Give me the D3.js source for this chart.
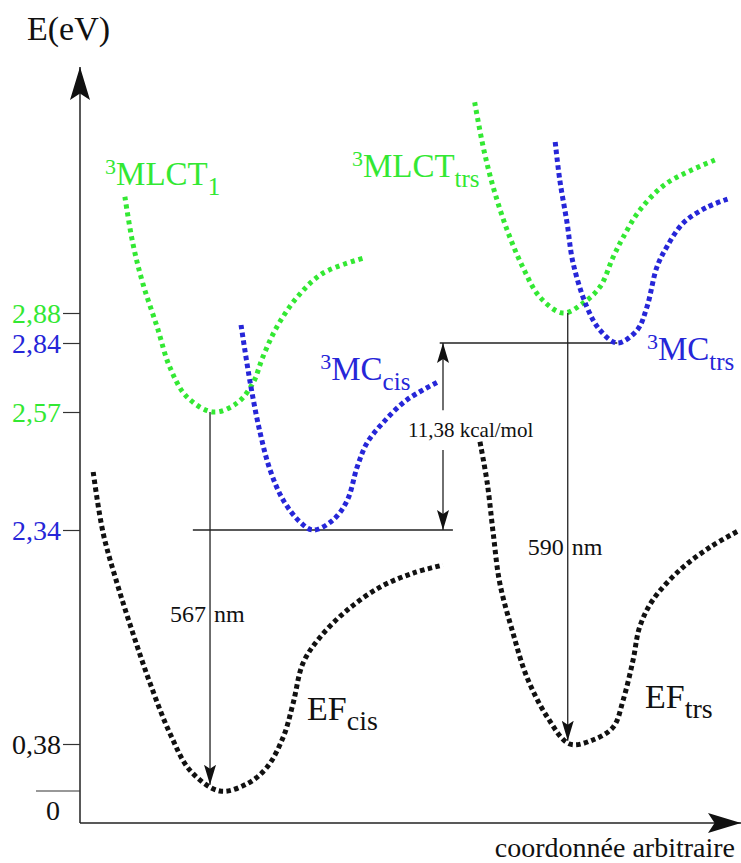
<!DOCTYPE html>
<html><head><meta charset="utf-8">
<script src="https://cdn.jsdelivr.net/npm/d3@7"></script>
<style>
body{margin:0;background:#fff}
svg{display:block}
svg text{font-family:"Liberation Serif","DejaVu Serif","Times New Roman",serif !important}
</style>
</head><body>
<svg id="c" width="741" height="863"></svg>
<script>
// ---------- data ----------
const energyLevels = [0, 0.38, 2.34, 2.57, 2.84, 2.88];        // eV, schematic axis
const tickValues   = [0.38, 2.34, 2.57, 2.84, 2.88];
const tickLabels   = ["0,38", "2,34", "2,57", "2,84", "2,88"];
const tickSeries   = ["EF", "MC", "MLCT", "MC", "MLCT"];

// [arbitrary coordinate, energy eV]
const mlctCis = [[0.68,3.035],[0.80,2.973],[0.95,2.92],[1.17,2.861],[1.36,2.746],[1.62,2.629],[2.02,2.57],
                 [2.38,2.605],[2.62,2.683],[2.77,2.785],[2.98,2.861],[3.29,2.901],[3.68,2.933],[4.29,2.953]];
const mcCis   = [[2.44,2.864],[2.58,2.683],[2.73,2.529],[2.88,2.457],[3.08,2.398],[3.33,2.356],[3.53,2.34],
                 [3.83,2.359],[4.05,2.398],[4.20,2.463],[4.35,2.510],[4.59,2.549],[4.95,2.617],[5.42,2.687]];
const mlctTrs = [[5.98,3.161],[6.11,3.101],[6.26,3.048],[6.47,2.991],[6.71,2.941],[6.97,2.901],[7.32,2.88],
                 [7.62,2.893],[7.88,2.915],[8.08,2.955],[8.23,2.981],[8.48,3.017],[8.89,3.053],[9.62,3.084]];
const mcTrs   = [[7.20,3.108],[7.27,3.057],[7.38,3.0],[7.47,2.947],[7.68,2.888],[7.88,2.857],[8.14,2.84],
                 [8.44,2.857],[8.59,2.888],[8.74,2.941],[8.89,2.968],[9.14,3.0],[9.50,3.021],[9.85,3.033]];
const efCis   = [[0.20,2.453],[0.35,2.313],[0.56,1.855],[0.80,1.397],[1.06,0.939],[1.36,0.481],[1.67,0.165],[2.12,0.0],
                 [2.53,0.058],[2.83,0.19],[3.08,0.444],[3.23,0.755],[3.38,1.122],[3.64,1.36],[4.05,1.607],[4.55,1.818],[5.05,1.946],[5.50,2.019]];
const efTrs   = [[6.06,2.512],[6.17,2.432],[6.26,2.313],[6.36,1.855],[6.56,1.397],[6.77,0.994],[7.08,0.627],[7.42,0.38],
                 [7.77,0.417],[8.08,0.536],[8.23,0.783],[8.38,1.149],[8.48,1.452],[8.68,1.699],[9.09,1.974],[9.55,2.184],[10.0,2.34]];

// annotations
const absCis = {x:1.97, from:2.57, to:0.05, num:"567", unit:"nm", ly:1.497};
const absTrs = {x:7.39, from:2.88, to:0.41, num:"590", unit:"nm", ly:2.111};
const barrier = {x:5.50, top:2.84, bottom:2.34, gapTop:2.577, gapBottom:2.496, label:"11,38 kcal/mol", lx:4.97, ly:2.521};
const levelLines = [{e:2.34, x0:1.71, x1:5.65}, {e:2.84, x0:5.45, x1:8.14}];

// labels: [sup, main, sub, series, x, E]
const curveLabels = [
  ["3","MLCT","1","MLCT",0.38,3.051],
  ["3","MLCT","trs","MLCT",4.12,3.061],
  ["3","MC","cis","MC",3.64,2.695],
  ["3","MC","trs","MC",8.59,2.773],
  ["","EF","cis","EF",3.44,0.600],
  ["","EF","trs","EF",8.56,0.710]
];

// ---------- drawing ----------
const color = {MLCT:"#33e833", MC:"#2626d8", EF:"#111111"};
const FONT = '"Liberation Serif","DejaVu Serif",serif';
const svg = d3.select("#c");
const x = d3.scaleLinear().domain([0,10]).range([80,740]);
const y = d3.scaleLinear().domain(energyLevels).range([791,744,530,412,343,313]);

const defs = svg.append("defs");
function marker(id, len, hw){
  defs.append("marker").attr("id",id).attr("markerUnits","userSpaceOnUse")
    .attr("viewBox",`0 ${-hw} ${len} ${2*hw}`).attr("refX",len).attr("refY",0)
    .attr("markerWidth",len).attr("markerHeight",2*hw).attr("orient","auto-start-reverse")
    .append("path").attr("d",`M0,${-hw}L${len},0L0,${hw}L${len*0.2},0Z`).attr("fill","#111");
}
marker("axArrow", 33, 10);
marker("smArrow", 20, 6);

function txt(sel){ return sel.style("font-family", FONT); }

// axes
svg.append("line").attr("x1",80).attr("y1",823).attr("x2",80).attr("y2",67)
  .attr("stroke","#222").attr("stroke-width",1.5).attr("marker-end","url(#axArrow)");
svg.append("line").attr("x1",80).attr("y1",823).attr("x2",741).attr("y2",823)
  .attr("stroke","#222").attr("stroke-width",1.5).attr("marker-end","url(#axArrow)");

const yAxis = d3.axisLeft(y).tickValues(tickValues).tickSize(17).tickPadding(2)
  .tickFormat((d,i)=>tickLabels[i]);
const gy = svg.append("g").attr("transform","translate(80,0)").call(yAxis);
gy.attr("font-family", null);
gy.select(".domain").remove();
gy.selectAll(".tick line").attr("stroke","#333").attr("stroke-width",1.2);
txt(gy.selectAll(".tick text")).attr("font-size",28).attr("dy","0.35em")
  .attr("fill",(d,i)=>color[tickSeries[i]]);
// zero level
svg.append("line").attr("x1",36).attr("x2",80).attr("y1",y(0)).attr("y2",y(0)).attr("stroke","#333").attr("stroke-width",1.2);
txt(svg.append("text")).attr("x",53).attr("y",y(0)+29).attr("text-anchor","middle").attr("font-size",28).attr("fill","#111").text("0");

txt(svg.append("text")).attr("x",27).attr("y",40).attr("font-size",34).attr("fill","#111").text("E(eV)");
txt(svg.append("text")).attr("x",735).attr("y",857).attr("text-anchor","end").attr("font-size",28).attr("fill","#111").text("coordonnée arbitraire");

// level lines
levelLines.forEach(l=>{
  svg.append("line").attr("x1",x(l.x0)).attr("x2",x(l.x1)).attr("y1",y(l.e)).attr("y2",y(l.e))
    .attr("stroke","#222").attr("stroke-width",1.3);
});

// curves
const line = d3.line().x(d=>x(d[0])).y(d=>y(d[1])).curve(d3.curveCatmullRom.alpha(0.5));
const curves = [[efCis,"EF"],[efTrs,"EF"],[mlctCis,"MLCT"],[mlctTrs,"MLCT"],[mcCis,"MC"],[mcTrs,"MC"]];
curves.forEach(([data,s])=>{
  svg.append("path").attr("d",line(data)).attr("fill","none")
    .attr("stroke",color[s]).attr("stroke-width",5)
    .attr("stroke-dasharray", s==="MLCT" ? "4 4" : "4.5 3.3");
});

// absorption arrows
[absCis, absTrs].forEach(a=>{
  svg.append("line").attr("x1",x(a.x)).attr("x2",x(a.x)).attr("y1",y(a.from)).attr("y2",y(a.to))
    .attr("stroke","#222").attr("stroke-width",1.3).attr("marker-end","url(#smArrow)");
  txt(svg.append("text")).attr("x",x(a.x)-4).attr("y",y(a.ly)).attr("text-anchor","end")
    .attr("font-size",24).attr("fill","#111").text(a.num);
  txt(svg.append("text")).attr("x",x(a.x)+4).attr("y",y(a.ly))
    .attr("font-size",24).attr("fill","#111").text(a.unit);
});

// barrier double arrow
svg.append("line").attr("x1",x(barrier.x)).attr("x2",x(barrier.x)).attr("y1",y(barrier.gapTop)).attr("y2",y(barrier.top))
  .attr("stroke","#222").attr("stroke-width",1.3).attr("marker-end","url(#smArrow)");
svg.append("line").attr("x1",x(barrier.x)).attr("x2",x(barrier.x)).attr("y1",y(barrier.gapBottom)).attr("y2",y(barrier.bottom))
  .attr("stroke","#222").attr("stroke-width",1.3).attr("marker-end","url(#smArrow)");
txt(svg.append("text")).attr("x",x(barrier.lx)).attr("y",y(barrier.ly)).attr("font-size",21).attr("fill","#111").text(barrier.label);

// curve labels
curveLabels.forEach(([sup,main,sub,s,lx,le])=>{
  const t = txt(svg.append("text")).attr("x",x(lx)).attr("y",y(le)).attr("fill",color[s]);
  if(sup) t.append("tspan").attr("font-size",22).attr("dy",-11).text(sup);
  t.append("tspan").attr("font-size",s==="EF"?34:33).attr("dy",sup?11:0).text(main);
  t.append("tspan").attr("font-size",s==="EF"?28:25).attr("dy",10).text(sub);
});
</script>
</body></html>
